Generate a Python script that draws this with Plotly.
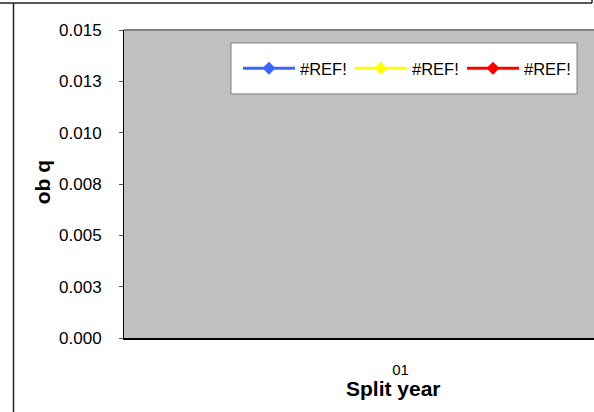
import plotly.graph_objects as go

# ---- data ----
categories = ["01"]
series_names = ["#REF!", "#REF!", "#REF!"]
series_colors = ["#3A66FF", "#FFFF00", "#FF0000"]
series_a = [None]
series_b = [None]
series_c = [None]
y_tickvals = [0.0, 0.0025, 0.005, 0.0075, 0.01, 0.0125, 0.015]
y_ticktext = ["0.000", "0.003", "0.005", "0.008", "0.010", "0.013", "0.015"]
x_title = "Split year"
y_title = "ob q"

W, H = 594, 412
L, T = 124, 30
PB = 338.5  # pixel y of plot bottom
PR = 594
B = H - PB
PW = PR - L
PH = PB - T

def px(x):
    return (x - L) / PW

def py(y):
    return (PB - y) / PH

fig = go.Figure()
for name, color, vals in zip(series_names, series_colors, [series_a, series_b, series_c]):
    fig.add_trace(go.Scatter(
        x=categories, y=vals, name=name, mode="lines+markers",
        line=dict(color=color, width=3),
        marker=dict(symbol="diamond", size=10, color=color),
        connectgaps=False,
    ))

font_family = "Liberation Sans, Arial, sans-serif"

fig.update_layout(
    width=W, height=H,
    margin=dict(l=L, r=W - PR, t=T, b=B, pad=0, autoexpand=False),
    paper_bgcolor="white",
    plot_bgcolor="#C0C0C0",
    font=dict(family=font_family, color="black"),
    showlegend=True,
    legend=dict(
        orientation="h",
        x=px(238), xanchor="left",
        y=py(68.5), yanchor="middle",
        bgcolor="rgba(0,0,0,0)", borderwidth=0,
        font=dict(size=16.5, family=font_family, color="black"),
        itemwidth=52,
        entrywidth=45, entrywidthmode="pixels",
        itemclick=False, itemdoubleclick=False,
    ),
    xaxis=dict(
        type="category",
        categoryorder="array", categoryarray=categories,
        range=[-0.5, 0.35],
        showline=True, linecolor="black", linewidth=2,
        showgrid=False, zeroline=False,
        ticks="", ticklen=0,
        tickfont=dict(size=15, family=font_family, color="black"),
        ticklabelstandoff=17,
        fixedrange=True,
    ),
    yaxis=dict(
        range=[0, 0.015],
        tickmode="array", tickvals=y_tickvals, ticktext=y_ticktext,
        showline=True, linecolor="black", linewidth=1,
        showgrid=False, zeroline=False,
        ticks="outside", ticklen=4, tickwidth=1, tickcolor="#555555",
        tickfont=dict(size=17, family=font_family, color="black"),
        ticklabelstandoff=14,
        fixedrange=True,
    ),
    shapes=[
        # legend box
        dict(type="rect", xref="paper", yref="paper",
             x0=px(231), x1=px(577), y0=py(94), y1=py(43),
             fillcolor="white", line=dict(color="#808080", width=1), layer="below"),
        # plot area top border
        dict(type="line", xref="paper", yref="paper",
             x0=0, x1=1, y0=py(T), y1=py(T),
             line=dict(color="#808080", width=2)),
        # outer frame (cell borders)
        dict(type="line", xref="paper", yref="paper",
             x0=px(0), x1=px(592), y0=py(3), y1=py(3),
             line=dict(color="#222222", width=1.5)),
        dict(type="line", xref="paper", yref="paper",
             x0=px(13.5), x1=px(13.5), y0=py(3), y1=py(H + 2),
             line=dict(color="#222222", width=1.5)),
        dict(type="line", xref="paper", yref="paper",
             x0=px(592), x1=px(592), y0=py(-2), y1=py(3),
             line=dict(color="#222222", width=1.5)),
    ],
    annotations=[
        dict(text="<b>" + x_title + "</b>", xref="paper", yref="paper",
             x=px(393), y=py(376), xanchor="center", yanchor="top",
             showarrow=False, font=dict(size=21, family=font_family, color="black")),
        dict(text="<b>" + y_title + "</b>", xref="paper", yref="paper",
             x=px(42), y=py(182.5), xanchor="center", yanchor="middle",
             textangle=-90, showarrow=False,
             font=dict(size=21, family=font_family, color="black")),
    ],
)

fig.write_html("out.html", config={"displayModeBar": False})
